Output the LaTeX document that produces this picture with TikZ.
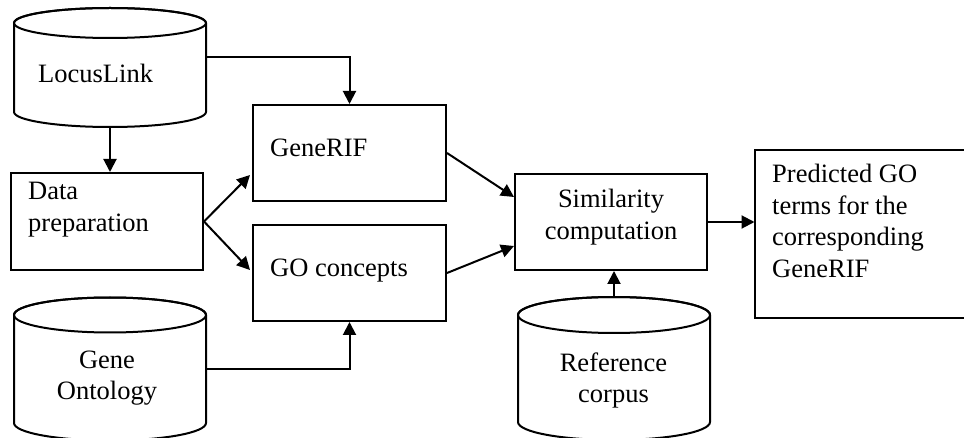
\documentclass[tikz,border=0pt]{standalone}
\usepackage{fontspec}
\setmainfont{Liberation Serif}
\usetikzlibrary{arrows.meta,calc}
\newcommand{\mycyl}[6]{%
  \pgfmathsetmacro\cylcx{(#2+#3)/2}%
  \pgfmathsetmacro\cylrx{(#3-#2)/2}%
  \draw[ln,fill=white] (#2,-#4) -- (#2,-#5)
     arc[start angle=180,end angle=360,x radius=\cylrx,y radius=#6]
     -- (#3,-#4)
     arc[start angle=0,end angle=180,x radius=\cylrx,y radius=#6] -- cycle;
  \draw[ln] (\cylcx,-#4) ellipse[x radius=\cylrx,y radius=#6];
  \node[coordinate] (#1top) at (\cylcx,{-(#4)+(#6)}) {};
  \node[coordinate] (#1bot) at (\cylcx,{-(#5)-(#6)}) {};
}
\tikzset{
  ln/.style={line width=2pt},
  box/.style={draw,line width=2pt,rectangle,inner sep=0pt},
  lbl/.style={inner sep=0pt,font=\fontsize{26.5}{31.5}\selectfont},
  conn/.style={line width=2pt,-{Triangle[length=13pt,width=13pt]}},
}
\begin{document}
\begin{tikzpicture}[x=1pt,y=1pt]
\useasboundingbox (0,0) rectangle (964,-438);
\clip (0,0) rectangle (964,-438);
% cylinders
\mycyl{locus}{14}{206}{23}{112}{15}
\mycyl{geneont}{14}{206}{315}{423}{17.5}
\mycyl{refc}{518}{710}{315}{422}{18}
\node[lbl,anchor=base west] (tlocus) at (38,-83) {LocusLink};
\node[lbl,anchor=base] (tgo) at (107,-368) {\begin{tabular}[t]{@{}c@{}}Gene\\Ontology\end{tabular}};
\node[lbl,anchor=base] (tref) at (613.5,-371) {\begin{tabular}[t]{@{}c@{}}Reference\\corpus\end{tabular}};
\node[coordinate] (locusE) at (206,-57) {};
\node[coordinate] (geneontE) at (206,-369) {};
% boxes
\node[box,minimum width=192pt,minimum height=97pt] (dataprep) at (107,-221.5) {};
\node[lbl,anchor=base west] (tdata) at (28,-200) {\begin{tabular}[t]{@{}l@{}}Data\\preparation\end{tabular}};
\node[box,minimum width=193pt,minimum height=96pt] (generif) at (349.5,-153) {};
\node[lbl,anchor=base west] (tgenerif) at (270,-157) {GeneRIF};
\node[box,minimum width=193pt,minimum height=96pt] (goc) at (349.5,-273) {};
\node[lbl,anchor=base west] (tgoc) at (270,-277) {GO concepts};
\node[box,minimum width=192pt,minimum height=96pt] (sim) at (611,-222) {};
\node[lbl,anchor=base] (tsim) at (611,-208) {\begin{tabular}[t]{@{}c@{}}Similarity\\computation\end{tabular}};
\draw[ln] (972,-150) -| (754.5,-318) -- (972,-318);
\node[coordinate] (pred) at (754.5,-222) {};
\node[lbl,anchor=base west] (tpred) at (772,-183) {\begin{tabular}[t]{@{}l@{}}Predicted GO\\terms for the\\corresponding\\GeneRIF\end{tabular}};
% connectors
\draw[conn] (locusE) -| (generif.north);
\draw[conn] (locusbot) -- (locusbot |- dataprep.north);
\draw[conn] (dataprep.east) -- ([shift={(-2pt,27pt)}]generif.south west);
\draw[conn] (dataprep.east) -- ([shift={(-2pt,3pt)}]goc.west);
\draw[conn] (generif.east) -- ([yshift=25pt]sim.west);
\draw[conn] (goc.east) -- ([yshift=-24pt]sim.west);
\draw[conn] (geneontE) -| (goc.south);
\draw[conn] (refctop) -- (refctop |- sim.south);
\draw[conn] (sim.east) -- (pred);
\end{tikzpicture}
\end{document}
